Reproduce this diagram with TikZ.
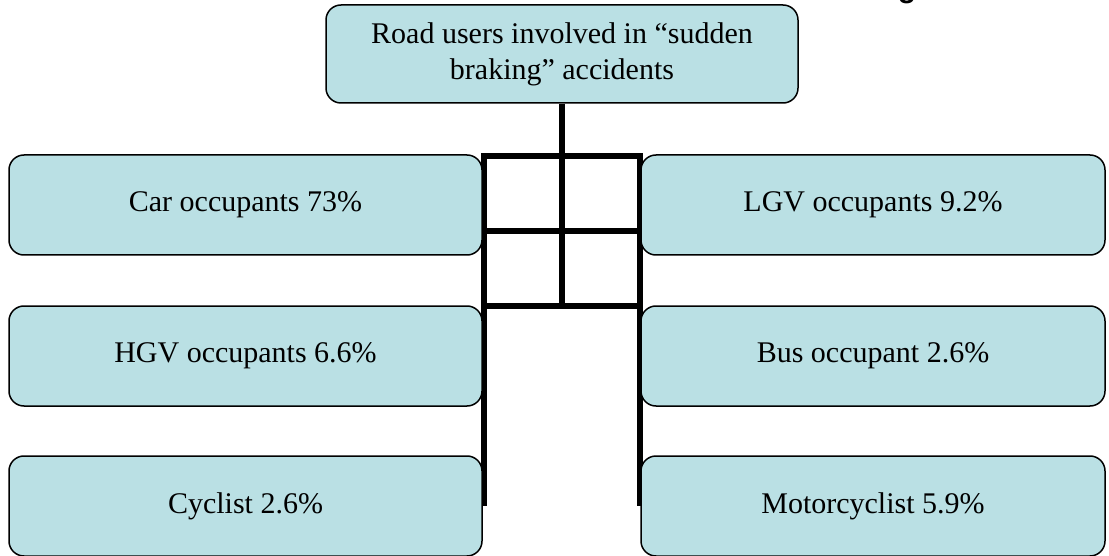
\documentclass[tikz,border=0pt]{standalone}
\usepackage{fontspec}
\setmainfont{Liberation Serif}
\newfontfamily\headsans{Liberation Sans}
\usetikzlibrary{backgrounds}
\definecolor{boxfill}{RGB}{186,224,228}
\begin{document}
\begin{tikzpicture}[x=1pt,y=-1pt,
  orgbox/.style={draw=black, line width=1.5pt, fill=boxfill, rounded corners=15pt,
    minimum height=100pt, inner sep=0pt, align=center,
    font=\fontsize{30}{36}\selectfont},
  leftbox/.style={orgbox, minimum width=473pt},
  rightbox/.style={orgbox, minimum width=464pt},
  link/.style={line width=5.5pt, draw=black, line join=miter}]
\useasboundingbox (0,0) rectangle (1109,556);
\begin{scope}
\clip (0,0) rectangle (1109,556);
\node[font=\headsans\bfseries\fontsize{30}{30}\selectfont, anchor=base, inner sep=0pt] (gtail) at (907,-2) {g};
\node[orgbox, minimum width=472pt, minimum height=98pt] (top) at (562,54) {Road users involved in “sudden\\braking” accidents};
\node[leftbox] (car) at (245.5,205) {Car occupants 73\%};
\node[rightbox] (lgv) at (873,205) {LGV occupants 9.2\%};
\node[leftbox] (hgv) at (245.5,356) {HGV occupants 6.6\%};
\node[rightbox] (bus) at (873,356) {Bus occupant 2.6\%};
\node[leftbox] (cyc) at (245.5,506) {Cyclist 2.6\%};
\node[rightbox] (moto) at (873,506) {Motorcyclist 5.9\%};
\end{scope}
\coordinate (jL1) at (484,156);
\coordinate (jR1) at (640,156);
\coordinate (jL2) at (484,231);
\coordinate (jR2) at (640,231);
\coordinate (jL3) at (484,306);
\coordinate (jR3) at (640,306);
\coordinate (jC3) at (562,306);
\begin{scope}[on background layer]
\draw[link] (top.south) -- (jC3);
\draw[link] (jL1 |- cyc.east) -- (jL1) -- (jR1) -- (jR1 |- moto.west);
\draw[link] (jL2) -- (jR2);
\draw[link] (jL3) -- (jR3);
\end{scope}
\end{tikzpicture}
\end{document}
